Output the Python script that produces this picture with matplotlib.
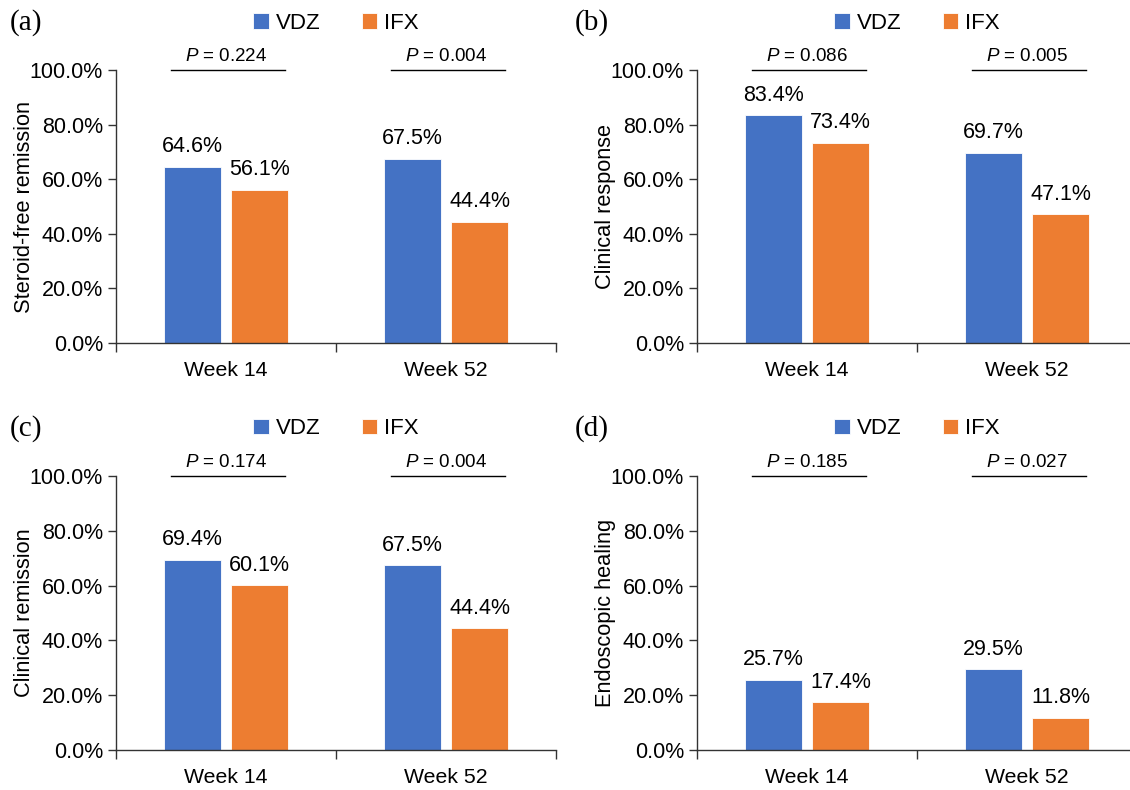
import numpy as np
import matplotlib
matplotlib.use("Agg")
import matplotlib.pyplot as plt
import matplotlib.transforms as mtransforms
from matplotlib.ticker import FuncFormatter, FixedLocator

plt.rcParams["font.family"] = ["Liberation Sans", "DejaVu Sans"]
plt.rcParams["mathtext.fontset"] = "custom"
plt.rcParams["mathtext.rm"] = "Liberation Sans"
plt.rcParams["mathtext.it"] = "Liberation Sans:italic"

weeks = ["Week 14", "Week 52"]
groups = ["VDZ", "IFX"]
panel_tags = ["(a)", "(b)", "(c)", "(d)"]
ylabels = ["Steroid-free remission", "Clinical response", "Clinical remission", "Endoscopic healing"]
vdz = [[64.6, 67.5], [83.4, 69.7], [69.4, 67.5], [25.7, 29.5]]
ifx = [[56.1, 44.4], [73.4, 47.1], [60.1, 44.4], [17.4, 11.8]]
pvals = [["0.224", "0.004"], ["0.086", "0.005"], ["0.174", "0.004"], ["0.185", "0.027"]]

colors = {"VDZ": "#4472C4", "IFX": "#ED7D31"}

fig = plt.figure(figsize=(11.3, 7.9), dpi=100)
rects = [
    [0.1027, 0.5658, 0.3894, 0.3456],
    [0.6168, 0.5658, 0.3894, 0.3456],
    [0.1027, 0.0506, 0.3894, 0.3468],
    [0.6168, 0.0506, 0.3894, 0.3468],
]
tag_x = [0.009, 0.509, 0.009, 0.509]

x = np.arange(len(weeks))
w = 0.257
gap = 0.047

for i in range(4):
    ax = fig.add_axes(rects[i])
    b1 = ax.bar(x - (w + gap) / 2, vdz[i], w, color=colors["VDZ"], edgecolor="white", linewidth=0.6, label="VDZ")
    b2 = ax.bar(x + (w + gap) / 2, ifx[i], w, color=colors["IFX"], edgecolor="white", linewidth=0.6, label="IFX")
    for bars, vals in ((b1, vdz[i]), (b2, ifx[i])):
        for r, v in zip(bars, vals):
            ax.annotate(f"{v:.1f}%", (r.get_x() + r.get_width() / 2, v), xytext=(0, 10.5),
                        textcoords="offset points", ha="center", va="baseline", fontsize=15.5)

    # p-value lines
    for j, p in enumerate(pvals[i]):
        ax.plot([x[j] - 0.25, x[j] + 0.27], [100, 100], color="black", lw=1.0, clip_on=False)
        ax.text(x[j], 103.3, f"$P$ = {p}", ha="center", va="baseline", fontsize=13.5)

    ax.set_xlim(-0.5, 1.5)
    ax.set_ylim(0, 100)
    ax.set_yticks(np.arange(0, 101, 20))
    ax.yaxis.set_major_formatter(FuncFormatter(lambda v, pos: f"{v:.1f}%"))
    ax.set_xticks(x)
    ax.set_xticklabels(weeks, fontsize=15.3)
    ax.tick_params(axis="x", which="major", length=0, pad=13)
    ax.xaxis.set_minor_locator(FixedLocator([-0.5, 0.5, 1.5]))
    ax.tick_params(axis="x", which="minor", length=6.5, width=1, color="#333333", direction="out")
    ax.tick_params(axis="y", length=5.8, width=1, color="#333333", labelsize=15.5, pad=3.6)
    for s in ("top", "right"):
        ax.spines[s].set_visible(False)
    for s in ("left", "bottom"):
        ax.spines[s].set_color("#333333")
        ax.spines[s].set_linewidth(1.0)
    ax.set_ylabel(ylabels[i], fontsize=15.7)
    ax.yaxis.set_label_coords(-0.185, 0.5)

    ax.legend(loc="center", bbox_to_anchor=(0.5, 1.172), ncol=2, frameon=False, fontsize=16,
              handlelength=0.7, handleheight=0.7, handletextpad=0.32, columnspacing=1.85)
    trans = mtransforms.blended_transform_factory(fig.transFigure, ax.transAxes)
    ax.text(tag_x[i], 1.175, panel_tags[i], transform=trans, fontsize=21,
            family="Liberation Serif", ha="left", va="center")

fig.savefig("out.png", dpi=100)
